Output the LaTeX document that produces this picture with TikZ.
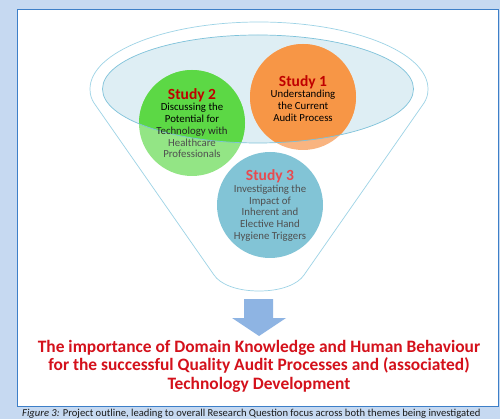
\documentclass[tikz,border=0pt]{standalone}
\usepackage{fontspec}
\setmainfont{Carlito}
\usetikzlibrary{shapes.geometric}
\definecolor{bgblue}{HTML}{C6D9F1}
\definecolor{frameblue}{HTML}{3D7FC8}
\definecolor{funnelline}{HTML}{9DD3E6}
\definecolor{ellfill}{HTML}{DEEEF4}
\definecolor{ellline}{HTML}{7EC2DA}
\definecolor{greenfull}{HTML}{5CD845}
\definecolor{greenpale}{HTML}{93E585}
\definecolor{orangefull}{HTML}{F79646}
\definecolor{orangepale}{HTML}{F9B480}
\definecolor{tealcirc}{HTML}{82C4D6}
\definecolor{titlered}{HTML}{C00000}
\definecolor{titlepale}{HTML}{E84A50}
\definecolor{bodygray}{HTML}{505050}
\definecolor{mainred}{HTML}{D4111B}
\definecolor{arrowblue}{HTML}{8EB4E3}
\definecolor{captext}{HTML}{1A1A1A}
\tikzset{
  circtext/.style={align=center, inner sep=0pt, anchor=north,
    font=\fontsize{10.8}{11.7}\selectfont},
}
\newcommand{\stitle}[2]{\textcolor{#1}{\fontsize{15.5}{16}\selectfont\bfseries #2}}
\begin{document}
\begin{tikzpicture}[x=1pt,y=-1pt]
\useasboundingbox (0,0) rectangle (500,419);
% background
\fill[bgblue] (0,0) rectangle (500,419);
\node[draw=frameblue, line width=1.4pt, fill=white, inner sep=0pt, anchor=north west,
  minimum width=481pt, minimum height=397pt] (frame) at (17,9) {};
% funnel outline
\draw[funnelline, line width=0.7pt]
  (90,89) .. controls (90,52) and (165.7,22) .. (259,22)
  .. controls (352.3,22) and (428,52) .. (428,89)
  .. controls (428,95) and (426.5,99) .. (424,103)
  -- (304,275)
  .. controls (298,284) and (282,291) .. (259,291)
  .. controls (236,291) and (220,284) .. (214,275)
  -- (94,103)
  .. controls (91.5,99) and (90,95) .. cycle;
% inner ellipse fill
\node[ellipse, fill=ellfill, minimum width=311pt, minimum height=108pt, inner sep=0pt] (ell) at (258,89) {};
% circles (pale, outside the ellipse)
\node[circle, fill=greenpale, minimum size=106pt, inner sep=0pt] (c2) at (192,123) {};
\node[circle, fill=orangepale, minimum size=106pt, inner sep=0pt] (c1) at (303,97) {};
\node[circle, fill=tealcirc, minimum size=106pt, inner sep=0pt] (c3) at (270,205) {};
% saturated part inside the ellipse
\begin{scope}
  \clip (258,89) ellipse [x radius=155.5pt, y radius=54pt];
  \fill[greenfull] (c2.center) circle [radius=53pt];
  \fill[orangefull] (c1.center) circle [radius=53pt];
\end{scope}
\draw[ellline, line width=0.7pt] (258,89) ellipse [x radius=155.5pt, y radius=54pt];
% texts
\node[circtext] (t1) at (303,75) {\stitle{titlered}{Study 1}\\[0.2pt]
  Understanding\\ the Current\\ Audit Process};
\node[circtext] (t2) at (192,88) {\stitle{titlered}{Study 2}\\[0.2pt]
  Discussing the\\ Potential for\\ \textcolor{black!85}{Technology with}\\
  \textcolor{bodygray}{Healthcare}\\ \textcolor{bodygray}{Professionals}};
\node[circtext, text=bodygray] (t3) at (270,169.5) {\stitle{titlepale}{Study 3}\\[0.2pt]
  Investigating the\\ Impact of\\ Inherent and\\ Elective Hand\\ Hygiene Triggers};
% arrow
\fill[arrowblue] (244,299) -- (273,299) -- (273,318) -- (286,318) -- (259,336)
  -- (232,318) -- (244,318) -- cycle;
\coordinate (arrowtip) at (259,336);
% main statement
\node[align=center, inner sep=0pt, anchor=north, text=mainred,
  font=\fontsize{17.4}{18.5}\selectfont\bfseries] (main) at (259,340)
  {The importance of Domain Knowledge and Human Behaviour\\
   for the successful Quality Audit Processes and (associated)\\
   Technology Development};
% caption
\node[anchor=base west, inner sep=0pt, text=captext, font=\fontsize{10.6}{12}\selectfont]
  (cap) at (22,416.5) {\textit{Figure 3:} Project outline, leading to overall Research Question focus across both themes being investigated};
\end{tikzpicture}
\end{document}
